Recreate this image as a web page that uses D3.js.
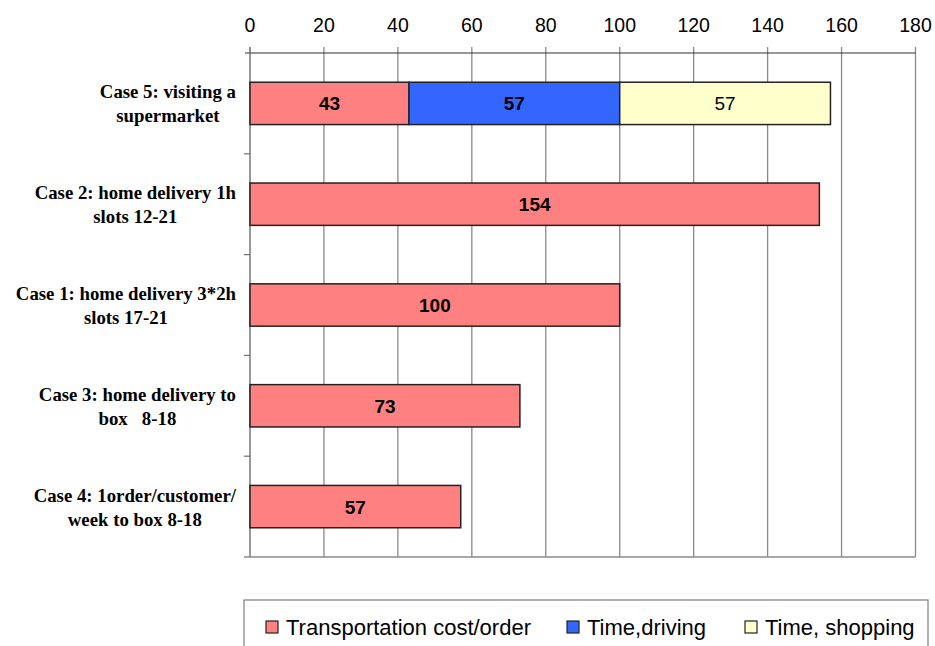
<!DOCTYPE html>
<html lang="en">
<head>
    <meta charset="UTF-8">
    <title>Cost per order by case</title>
    <script src="https://d3js.org/d3.v7.min.js"></script>
    <style>
        body { margin: 0; background: #fff; }
        .tick-label { font-family: "Liberation Sans", Arial, sans-serif; font-size: 19.5px; fill: #000; }
        .cat-label { font-family: "Liberation Serif", "Times New Roman", serif; font-size: 18.8px; font-weight: bold; fill: #000; }
        .bar-label { font-family: "Liberation Sans", Arial, sans-serif; font-size: 19px; fill: #000; text-anchor: middle; }
        .legend-label { font-family: "Liberation Sans", Arial, sans-serif; font-size: 22px; fill: #000; }
    </style>
</head>
<body>
<div id="chart"></div>
<script>
// categories, top to bottom, each split in two lines as in the picture
const categories = ["case5", "case2", "case1", "case3", "case4"];
const categoryLines = [
    ["Case 5: visiting a", "supermarket"],
    ["Case 2: home delivery 1h", "slots 12-21"],
    ["Case 1: home delivery 3*2h", "slots 17-21"],
    ["Case 3: home delivery to", "box   8-18"],
    ["Case 4: 1order/customer/", "week to box 8-18"]
];
const seriesNames = ["Transportation cost/order", "Time,driving", "Time, shopping"];
const transportCost = [43, 154, 100, 73, 57];
const timeDriving = [57, 0, 0, 0, 0];
const timeShopping = [57, 0, 0, 0, 0];
const xTicks = [0, 20, 40, 60, 80, 100, 120, 140, 160, 180];
const colors = ["#ff8080", "#3366ff", "#ffffcc"];

const W = 935, H = 646;
const plotLeft = 250, plotRight = 915.5, plotTop = 53, plotBottom = 557;

const svg = d3.select("#chart").append("svg")
    .attr("width", W).attr("height", H);

const x = d3.scaleLinear().domain([0, 180]).range([plotLeft, plotRight]);
const y = d3.scaleBand().domain(categories).range([plotTop, plotBottom])
    .paddingInner(0.58).paddingOuter(0.29);
const step = y.step();

// stack the three series
const rows = categories.map((c, i) => ({
    cat: c,
    [seriesNames[0]]: transportCost[i],
    [seriesNames[1]]: timeDriving[i],
    [seriesNames[2]]: timeShopping[i]
}));
const stacked = d3.stack().keys(seriesNames)(rows);

// gridlines
svg.append("g").selectAll("line")
    .data(xTicks.filter(t => t > 0))
    .enter().append("line")
    .attr("x1", d => x(d)).attr("x2", d => x(d))
    .attr("y1", plotTop - 6).attr("y2", plotBottom)
    .attr("stroke", "#8a8a8a").attr("stroke-width", 1.3);

// bottom border
svg.append("line")
    .attr("x1", plotLeft - 6).attr("x2", plotRight)
    .attr("y1", plotBottom).attr("y2", plotBottom)
    .attr("stroke", "#8a8a8a").attr("stroke-width", 1.3);

// top axis
svg.append("line")
    .attr("x1", plotLeft - 5).attr("x2", plotRight)
    .attr("y1", plotTop).attr("y2", plotTop)
    .attr("stroke", "#333").attr("stroke-width", 1.2);
svg.append("line")
    .attr("x1", x(0)).attr("x2", x(0))
    .attr("y1", plotTop - 6).attr("y2", plotTop)
    .attr("stroke", "#555").attr("stroke-width", 1.3);
svg.append("g").selectAll("text")
    .data(xTicks)
    .enter().append("text")
    .attr("class", "tick-label")
    .attr("x", d => x(d))
    .attr("y", 32)
    .attr("text-anchor", "middle")
    .text(d => d);

// left axis with category boundary ticks
svg.append("line")
    .attr("x1", plotLeft).attr("x2", plotLeft)
    .attr("y1", plotTop).attr("y2", plotBottom)
    .attr("stroke", "#777").attr("stroke-width", 1.5);
svg.append("g").selectAll("line")
    .data(categories.slice(1))
    .enter().append("line")
    .attr("x1", plotLeft - 6).attr("x2", plotLeft)
    .attr("y1", d => y(d) - step * 0.29).attr("y2", d => y(d) - step * 0.29)
    .attr("stroke", "#777").attr("stroke-width", 1.3);

// bars
const layers = svg.append("g").selectAll("g")
    .data(stacked)
    .enter().append("g")
    .attr("fill", (d, i) => colors[i]);
layers.selectAll("rect")
    .data(d => d.filter(s => s[1] > s[0]))
    .enter().append("rect")
    .attr("x", d => x(d[0]))
    .attr("y", d => y(d.data.cat))
    .attr("width", d => x(d[1]) - x(d[0]))
    .attr("height", y.bandwidth())
    .attr("stroke", "#222")
    .attr("stroke-width", 1.5);

// value labels
stacked.forEach((layer, si) => {
    svg.append("g").selectAll("text")
        .data(layer.filter(s => s[1] > s[0]))
        .enter().append("text")
        .attr("class", "bar-label")
        .attr("font-weight", si === 2 ? "normal" : "bold")
        .attr("x", d => (x(d[0]) + x(d[1])) / 2)
        .attr("y", d => y(d.data.cat) + y.bandwidth() / 2 + 7)
        .text(d => d[1] - d[0]);
});

// category labels: lines centred on each other, block right-aligned
categories.forEach((c, i) => {
    const g = svg.append("g");
    const texts = categoryLines[i].map((line, j) => g.append("text")
        .attr("class", "cat-label")
        .attr("y", y(c) + y.bandwidth() / 2 - 5 + j * 24)
        .attr("text-anchor", "middle")
        .style("white-space", "pre")
        .text(line));
    const maxW = d3.max(texts, t => t.node().getComputedTextLength());
    texts.forEach(t => t.attr("x", 236 - maxW / 2));
});

// legend
svg.append("rect")
    .attr("x", 244).attr("y", 600)
    .attr("width", 684).attr("height", 60)
    .attr("fill", "#fff").attr("stroke", "#888").attr("stroke-width", 1.3);
const legendX = [266, 567, 745];
seriesNames.forEach((name, i) => {
    svg.append("rect")
        .attr("x", legendX[i]).attr("y", 621)
        .attr("width", 12).attr("height", 12)
        .attr("fill", colors[i]).attr("stroke", "#222").attr("stroke-width", 1.2);
    svg.append("text")
        .attr("class", "legend-label")
        .attr("x", legendX[i] + 20).attr("y", 635)
        .text(name);
});
</script>
</body>
</html>
